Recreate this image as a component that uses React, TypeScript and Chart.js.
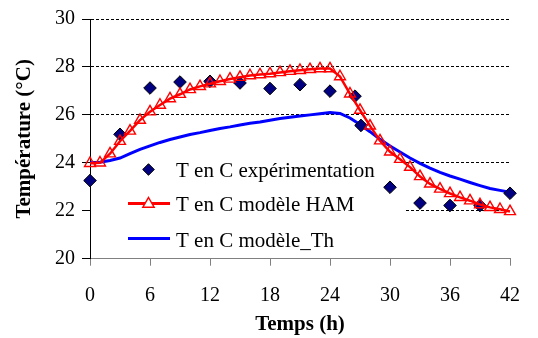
import React, { useEffect, useRef } from 'react';
import { Chart, registerables } from 'chart.js';

Chart.register(...registerables);

// ---------- data ----------
const seriesNames = ['T en C expérimentation', 'T en C modèle HAM', 'T en C modèle_Th'];
const xTitle = 'Temps (h)';
const yTitle = 'Température (°C)';

const modelHours = [
  0, 1, 2, 3, 4, 5, 6, 7, 8, 9, 10, 11, 12, 13, 14, 15, 16, 17, 18, 19, 20, 21,
  22, 23, 24, 25, 26, 27, 28, 29, 30, 31, 32, 33, 34, 35, 36, 37, 38, 39, 40, 41, 42,
];
const hamTemps = [
  23.98, 24.0, 24.38, 24.9, 25.33, 25.78, 26.13, 26.41, 26.68, 26.86, 27.06, 27.19, 27.3,
  27.4, 27.5, 27.57, 27.64, 27.68, 27.72, 27.77, 27.82, 27.86, 27.9, 27.93, 27.93, 27.6,
  26.88, 26.2, 25.54, 24.92, 24.46, 24.15, 23.82, 23.43, 23.12, 22.91, 22.72, 22.56, 22.42,
  22.26, 22.14, 22.06, 21.97,
];
const thTemps = [
  24.0, 24.02, 24.1, 24.2, 24.38, 24.56, 24.71, 24.85, 24.97, 25.08, 25.18, 25.26, 25.35,
  25.43, 25.5, 25.58, 25.65, 25.7, 25.78, 25.85, 25.9, 25.95, 26.0, 26.05, 26.1, 26.06,
  25.87, 25.6, 25.3, 24.98, 24.7, 24.45, 24.2, 23.98, 23.78, 23.6, 23.45, 23.32, 23.18,
  23.05, 22.93, 22.85, 22.77,
];
const expHours = [0, 3, 6, 9, 12, 15, 18, 21, 24, 26.5, 27.1, 30, 33, 36, 39, 42];
const expTemps = [
  23.26, 25.19, 27.12, 27.37, 27.4, 27.33, 27.1, 27.26, 26.99, 26.78, 25.56, 22.98, 22.32,
  22.22, 22.22, 22.73,
];

const xMin = 0;
const xMax = 42;
const xStep = 6;
const yMin = 20;
const yMax = 30;
const yStep = 2;

// ---------- styles ----------
const FONT = "'Liberation Serif', 'Times New Roman', serif";
const RED = '#ff0000';
const BLUE = '#0000ff';
const NAVY = '#000080';

function drawTriangle(ctx: CanvasRenderingContext2D, cx: number, cy: number, r: number) {
  ctx.beginPath();
  ctx.moveTo(cx, cy - r);
  ctx.lineTo(cx + r * 0.866, cy + r / 2);
  ctx.lineTo(cx - r * 0.866, cy + r / 2);
  ctx.closePath();
}

function drawDiamond(ctx: CanvasRenderingContext2D, cx: number, cy: number, r: number) {
  ctx.beginPath();
  ctx.moveTo(cx, cy - r);
  ctx.lineTo(cx + r, cy);
  ctx.lineTo(cx, cy + r);
  ctx.lineTo(cx - r, cy);
  ctx.closePath();
}

const overlayPlugin = {
  id: 'overlay',
  beforeDatasetsDraw(chart: any) {
    const ctx = chart.ctx as CanvasRenderingContext2D;
    const area = chart.chartArea;
    ctx.save();
    ctx.fillStyle = '#ffffff';
    // legend box background (hides grid lines behind it)
    ctx.fillRect(area.left + 1, 150, 405 - area.left - 1, 100);
    ctx.restore();
  },
  afterDraw(chart: any) {
    const ctx = chart.ctx as CanvasRenderingContext2D;
    const area = chart.chartArea;
    ctx.save();
    // legend
    ctx.font = `21px ${FONT}`;
    ctx.fillStyle = '#000';
    ctx.textAlign = 'left';
    ctx.textBaseline = 'alphabetic';
    const textX = 176;
    const rows = [176.5, 211, 246.5];
    // row 1: diamond
    drawDiamond(ctx, 148.5, 169.5, 5.8);
    ctx.fillStyle = NAVY;
    ctx.fill();
    ctx.strokeStyle = '#000';
    ctx.lineWidth = 1;
    ctx.stroke();
    // row 2: red line + triangle
    ctx.beginPath();
    ctx.moveTo(128, 203.5);
    ctx.lineTo(170, 203.5);
    ctx.strokeStyle = RED;
    ctx.lineWidth = 3;
    ctx.stroke();
    drawTriangle(ctx, 148.5, 204, 6.5);
    ctx.fillStyle = '#fff';
    ctx.fill();
    ctx.lineWidth = 1.5;
    ctx.stroke();
    // row 3: blue line
    ctx.beginPath();
    ctx.moveTo(128, 238.5);
    ctx.lineTo(170, 238.5);
    ctx.strokeStyle = BLUE;
    ctx.lineWidth = 3;
    ctx.stroke();

    ctx.fillStyle = '#000';
    seriesNames.forEach((name, i) => ctx.fillText(name, textX, rows[i]));

    // axis titles
    ctx.font = `bold 21px ${FONT}`;
    ctx.textAlign = 'center';
    ctx.fillText(xTitle, (area.left + area.right) / 2, 329.5);
    ctx.translate(30, (area.top + area.bottom) / 2);
    ctx.rotate(-Math.PI / 2);
    ctx.fillText(yTitle, 0, 0);
    ctx.restore();
  },
};

export default function App() {
  const canvasRef = useRef<HTMLCanvasElement | null>(null);

  useEffect(() => {
    document.body.style.margin = '0';
    const canvas = canvasRef.current;
    if (!canvas) return;

    const chart = new Chart(canvas, {
      type: 'line',
      data: {
        datasets: [
          {
            label: seriesNames[0],
            data: expHours.map((h, i) => ({ x: h, y: expTemps[i] })),
            showLine: false,
            pointStyle: 'rectRot',
            pointRadius: 6.3,
            pointBackgroundColor: NAVY,
            pointBorderColor: '#000',
            pointBorderWidth: 1,
            order: 2,
            clip: false,
          },
          {
            label: seriesNames[1],
            data: modelHours.map((h, i) => ({ x: h, y: hamTemps[i] })),
            borderColor: RED,
            borderWidth: 2.5,
            pointStyle: 'triangle',
            pointRadius: 6.3,
            pointBackgroundColor: 'rgba(0,0,0,0)',
            pointBorderColor: RED,
            pointBorderWidth: 1.4,
            tension: 0,
            order: 1,
            clip: false,
          },
          {
            label: seriesNames[2],
            data: modelHours.map((h, i) => ({ x: h, y: thTemps[i] })),
            borderColor: BLUE,
            borderWidth: 3,
            pointRadius: 0,
            tension: 0,
            order: 3,
            clip: false,
          },
        ],
      },
      options: {
        animation: false,
        responsive: false,
        devicePixelRatio: 1,
        layout: { padding: { top: 17, right: 16, left: 0, bottom: 0 } },
        plugins: {
          legend: { display: false },
          tooltip: { enabled: false },
          title: { display: false },
        },
        scales: {
          x: {
            type: 'linear',
            min: xMin,
            max: xMax,
            ticks: {
              stepSize: xStep,
              color: '#000',
              font: { family: FONT, size: 20 },
              padding: 18,
              maxRotation: 0,
            },
            grid: {
              drawOnChartArea: false,
              drawTicks: true,
              tickLength: 7,
              tickColor: '#808080',
            },
            border: { color: '#808080', width: 1 },
            afterFit: (s: any) => {
              s.height = 79.3;
            },
          },
          y: {
            type: 'linear',
            min: yMin,
            max: yMax,
            ticks: {
              stepSize: yStep,
              color: '#000',
              font: { family: FONT, size: 20 },
              padding: 7,
            },
            grid: {
              color: (c: any) => (c.tick && c.tick.value === yMin ? 'rgba(0,0,0,0)' : '#000'),
              tickColor: '#000',
              tickLength: 8,
              lineWidth: 1,
            },
            border: { color: '#000', width: 1, dash: [3, 2] },
            afterFit: (s: any) => {
              s.width = 90;
            },
          },
        },
      },
      plugins: [overlayPlugin],
    } as any);

    return () => chart.destroy();
  }, []);

  return (
    <div style={{ position: 'absolute', left: 0, top: 0, width: 538, height: 338, background: '#fff' }}>
      <canvas ref={canvasRef} width={538} height={338} style={{ display: 'block' }} />
    </div>
  );
}
